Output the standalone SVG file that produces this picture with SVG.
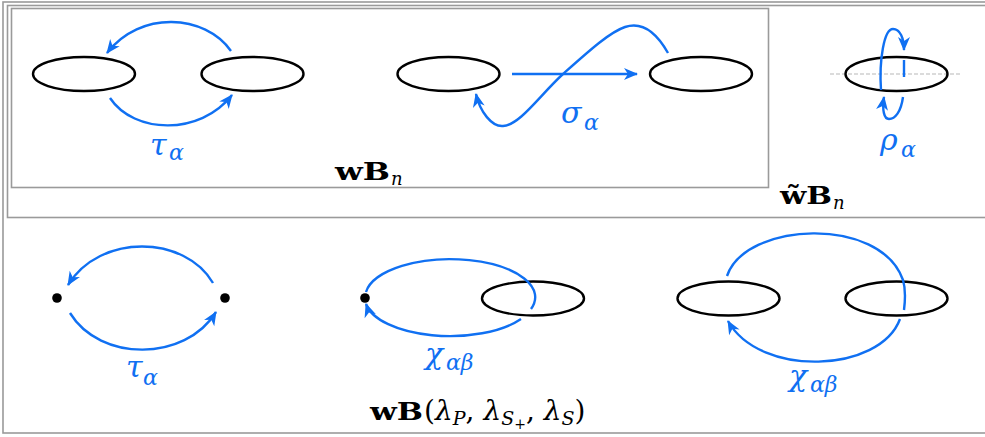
<svg xmlns="http://www.w3.org/2000/svg" width="985" height="437" viewBox="0 0 985 437">
<style>
.frame{fill:none;stroke:#9a9a9a;stroke-width:1.6}
.ell{fill:none;stroke:#000;stroke-width:2.4}
.dot{fill:#000}
.c{fill:none;stroke:#1070f2;stroke-width:2.4}
.arr{marker-end:url(#ah)}
.g{font-family:"DejaVu Serif","Liberation Serif",serif;font-style:italic;fill:#1070f2}
.k{font-family:"DejaVu Serif","Liberation Serif",serif;font-weight:bold;fill:#000}
.ki{font-family:"DejaVu Serif","Liberation Serif",serif;font-style:italic;fill:#000}
.kr{font-family:"DejaVu Serif","Liberation Serif",serif;fill:#000}
</style>
<defs>
<marker id="ah" viewBox="-14 -7 15 14" refX="0" refY="0" markerWidth="15" markerHeight="14" markerUnits="userSpaceOnUse" orient="auto">
<path d="M1,0 L-13,-6 L-9,0 L-13,6 Z" fill="#1070f2"/>
</marker>
</defs>
<rect width="985" height="437" fill="#fff"/>
<g id="frames">
<rect class="frame" x="3" y="2" width="1000" height="431"/>
<rect class="frame" x="7.5" y="5.5" width="1000" height="212"/>
<rect class="frame" x="11.5" y="8.5" width="757" height="179"/>
</g>
<g id="nodes">
<g id="tau-left"><ellipse class="ell" cx="84" cy="74" rx="51" ry="17"/></g>
<g id="tau-right"><ellipse class="ell" cx="252.5" cy="74" rx="51" ry="17"/></g>
<g id="sigma-left"><ellipse class="ell" cx="448.5" cy="74" rx="51" ry="17"/></g>
<g id="sigma-right"><ellipse class="ell" cx="701" cy="74" rx="51" ry="17"/></g>
<g id="rho-node">
<line x1="830" y1="74" x2="962" y2="74" stroke="#cfcfcf" stroke-width="1.5" stroke-dasharray="4 2"/>
<ellipse class="ell" cx="896.5" cy="74" rx="51" ry="17"/>
</g>
<g id="dot-left"><circle class="dot" cx="57" cy="298" r="4.8"/></g>
<g id="dot-right"><circle class="dot" cx="225" cy="298" r="4.8"/></g>
<g id="chi1-dot"><circle class="dot" cx="365" cy="298" r="4.8"/></g>
<g id="chi1-ell"><ellipse class="ell" cx="533" cy="298.5" rx="51" ry="17"/></g>
<g id="chi2-left"><ellipse class="ell" cx="728.5" cy="298.5" rx="51" ry="17"/></g>
<g id="chi2-right"><ellipse class="ell" cx="896.5" cy="298.5" rx="51" ry="17"/></g>
</g>
<g id="connectors">
<path class="c arr" d="M231,51 C205,14 140,10 107,53"/>
<path class="c arr" d="M110,98 C134,134 200,136 232,95"/>
<path class="c arr" d="M512,74 L637,74"/>
<path class="c arr" d="M668,53 C655,30 640,22 625,27 C610,32 590,50 563,74 C540,95 520,125 503,126 C492,127 480,112 476,94"/>
<path class="c arr" d="M881,90 C879,60 884,29 893,29 C900,29 904,38 904,50"/>
<path class="c" d="M904,60 L904,77"/>
<path class="c arr" d="M903,97 C901,112 895,119 889,119 C884,119 882,110 884,97"/>
<path class="c arr" d="M213,283 C185,235 100,233 68,285"/>
<path class="c arr" d="M70,313 C100,362 185,362 216,312"/>
<path class="c" d="M366,292 A85,38 0 1 1 531,309"/>
<path class="c arr" d="M521,319 A85,38 0 0 1 366,304"/>
<path class="c" d="M727,276 C745,222 880,215 903,280 C906,290 905,302 904,310"/>
<path class="c arr" d="M900,319 C880,373 760,378 728,321"/>
</g>
<g id="labels">
<g id="lbl-tau1"><text class="g" x="150" y="155" font-size="30">τ</text><text class="g" x="169" y="160" font-size="22">α</text></g>
<g id="lbl-sigma"><text class="g" x="561" y="123" font-size="30">σ</text><text class="g" x="584" y="130" font-size="22">α</text></g>
<g id="lbl-rho"><text class="g" x="880" y="150" font-size="30">ρ</text><text class="g" x="901" y="157" font-size="22">α</text></g>
<g id="lbl-tau2"><text class="g" x="126" y="377" font-size="30">τ</text><text class="g" x="143" y="385" font-size="22">α</text></g>
<g id="lbl-chi1"><text class="g" x="425" y="364" font-size="30">χ</text><text class="g" x="446" y="370" font-size="22">αβ</text></g>
<g id="lbl-chi2"><text class="g" x="789" y="386" font-size="30">χ</text><text class="g" x="810" y="392" font-size="22">αβ</text></g>
<g id="lbl-wBn"><text class="k" x="335" y="180" font-size="25" textLength="55" lengthAdjust="spacingAndGlyphs">wB</text><text class="ki" x="391" y="185" font-size="18">n</text></g>
<g id="lbl-wtBn"><text class="k" x="780" y="204" font-size="25" textLength="52" lengthAdjust="spacingAndGlyphs">w̃B</text><text class="ki" x="833" y="209" font-size="18">n</text></g>
<g id="lbl-wB"><text class="k" x="370" y="420" font-size="25" textLength="53" lengthAdjust="spacingAndGlyphs">wB</text><text class="kr" x="424" y="420" font-size="28">(<tspan class="ki">λ</tspan><tspan class="ki" font-size="19" dy="5">P</tspan><tspan dy="-5">,</tspan><tspan class="ki" dx="9">λ</tspan><tspan class="ki" font-size="19" dy="5">S</tspan><tspan font-size="14" dy="4">+</tspan><tspan dy="-9">,</tspan><tspan class="ki" dx="9">λ</tspan><tspan class="ki" font-size="19" dy="5">S</tspan><tspan dy="-5">)</tspan></text></g>
</g>
</svg>
